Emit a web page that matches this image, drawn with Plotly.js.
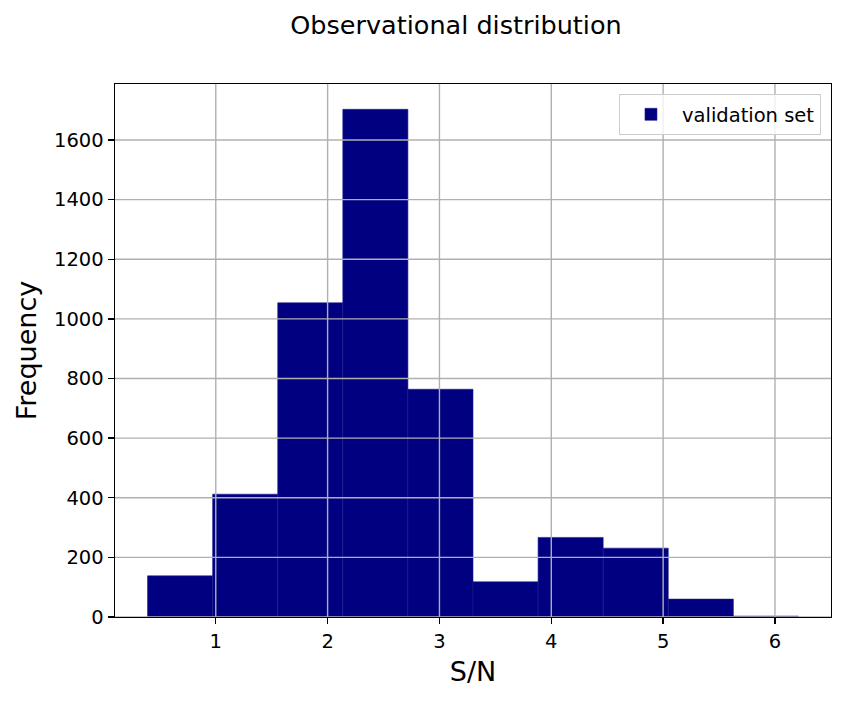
<!DOCTYPE html>
<html>
<head>
<meta charset="utf-8">
<script src="https://cdn.plot.ly/plotly-3.0.1.min.js"></script>
<style>html,body{margin:0;padding:0;background:#fff;}</style>
</head>
<body>
<div id="chart" style="width:846px;height:701px;"></div>
<script>
// Histogram bin edges (S/N) and counts
const binEdges = [0.39, 0.972, 1.554, 2.136, 2.718, 3.30, 3.882, 4.464, 5.046, 5.628, 6.21];
const counts = [138, 412, 1054, 1703, 764, 118, 267, 231, 60, 3];
const xTicks = [1, 2, 3, 4, 5, 6];
const yTicks = [0, 200, 400, 600, 800, 1000, 1200, 1400, 1600];
const seriesName = 'validation set';

const centers = counts.map((_, i) => (binEdges[i] + binEdges[i + 1]) / 2);
const widths = counts.map((_, i) => binEdges[i + 1] - binEdges[i]);

const font = 'DejaVu Sans, Liberation Sans, sans-serif';
const gridColor = '#b0b0b0';
const tickSize = 19.5;

const shapes = [];
xTicks.forEach(v => shapes.push({type:'line', xref:'x', yref:'paper', x0:v, x1:v, y0:0, y1:1,
  line:{color:gridColor, width:1.4}, layer:'above'}));
yTicks.forEach(v => shapes.push({type:'line', xref:'paper', yref:'y', x0:0, x1:1, y0:v, y1:v,
  line:{color:gridColor, width:1.4}, layer:'above'}));

const trace = {
  type: 'bar',
  x: centers,
  y: counts,
  width: widths,
  name: seriesName,
  marker: {color: '#000080', line: {color: '#1c1c8e', width: 0.6}},
  showlegend: true,
  hoverinfo: 'x+y'
};

const layout = {
  width: 846, height: 701,
  margin: {l: 115, r: 15, t: 84, b: 84},
  paper_bgcolor: '#fff', plot_bgcolor: '#fff',
  font: {family: font, color: '#000', size: tickSize},
  title: {text: 'Observational distribution', font: {family: font, size: 25.5, color: '#000'},
    x: 456/846, xanchor: 'center', y: 1 - 25/701, yanchor: 'middle', xref: 'container', yref: 'container'},
  bargap: 0,
  xaxis: {
    range: [0.099, 6.501],
    tickvals: xTicks, ticktext: xTicks.map(String),
    ticks: 'outside', ticklen: 6, tickwidth: 1.4, tickcolor: '#000',
    showline: true, mirror: true, linecolor: '#000', linewidth: 1.4,
    showgrid: false, zeroline: false,
    tickfont: {family: font, size: tickSize, color: '#000'},
    title: {text: 'S/N', font: {family: font, size: 27, color: '#000'}, standoff: 10},
    automargin: false
  },
  yaxis: {
    range: [0, 1788],
    tickvals: yTicks, ticktext: yTicks.map(String),
    ticks: 'outside', ticklen: 6, tickwidth: 1.4, tickcolor: '#000',
    showline: true, mirror: true, linecolor: '#000', linewidth: 1.4,
    showgrid: false, zeroline: false,
    tickfont: {family: font, size: tickSize, color: '#000'},
    title: {text: 'Frequency', font: {family: font, size: 27, color: '#000'}, standoff: 9},
    automargin: false
  },
  legend: {
    x: 0.986, y: 0.981, xanchor: 'right', yanchor: 'top',
    bgcolor: 'rgba(255,255,255,0.8)', bordercolor: '#cccccc', borderwidth: 1,
    itemwidth: 52,
    font: {family: font, size: 19.5, color: '#000'}
  },
  shapes: shapes
};

Plotly.newPlot('chart', [trace], layout, {displayModeBar: false, staticPlot: true});
</script>
</body>
</html>
